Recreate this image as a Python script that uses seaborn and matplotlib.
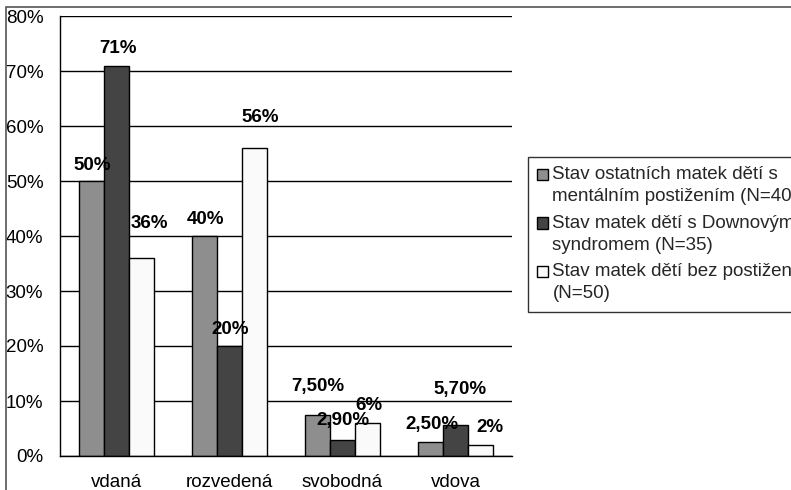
import matplotlib
matplotlib.use("Agg")
import matplotlib.pyplot as plt
from matplotlib.patches import Rectangle
from matplotlib.legend_handler import HandlerPatch
from matplotlib.ticker import MultipleLocator, FuncFormatter
import pandas as pd
import seaborn as sns

# Marital status of mothers (percent)
categories = ["vdaná", "rozvedená", "svobodná", "vdova"]
series = [
    "Stav ostatních matek dětí s\nmentálním postižením (N=40)",
    "Stav matek dětí s Downovým\nsyndromem (N=35)",
    "Stav matek dětí bez postižení\n(N=50)",
]
ostatni = [50, 40, 7.5, 2.5]
down = [71, 20, 2.9, 5.7]
bez = [36, 56, 6, 2]
colors = ["#8e8e8e", "#444444", "#fafafa"]

# label nudges (pixels: right, above bar top)
label_offsets = [
    [(1, 16), (1, 17), (1, 28.5), (2, 18)],
    [(1.5, 17), (1, 17), (0.5, 20), (4.5, 35)],
    [(7.5, 35), (5.5, 31), (1.5, 18), (9.5, 17)],
]

FS = 13.5

rows = []
for s, vals in zip(series, [ostatni, down, bez]):
    for c, v in zip(categories, vals):
        rows.append({"kategorie": c, "soubor": s, "podil": v})
df = pd.DataFrame(rows)

sns.set_theme(style="white")
plt.rcParams["font.family"] = ["Liberation Sans", "DejaVu Sans"]
plt.rcParams["font.size"] = FS

fig = plt.figure(figsize=(7.91, 4.90), dpi=100)
ax = fig.add_axes([60 / 791, 1 - 456 / 490, (512 - 60) / 791, (456 - 16) / 490])

sns.barplot(
    data=df, x="kategorie", y="podil", hue="soubor", order=categories,
    hue_order=series, palette=colors, edgecolor="black", linewidth=1.0,
    width=0.67, ax=ax, legend=False,
)

ax.set_ylim(0, 80)
ax.set_xlim(-0.5, len(categories) - 0.5)
ax.yaxis.set_major_locator(MultipleLocator(10))
ax.yaxis.set_major_formatter(FuncFormatter(lambda v, p: f"{v:.0f}%"))
ax.set_xticks([i - 0.5 for i in range(len(categories) + 1)], minor=False)
ax.set_xticklabels([])
ax.set_xticks(range(len(categories)), minor=True)
ax.set_xticklabels(categories, minor=True)
ax.tick_params(axis="x", which="major", direction="out", length=5, width=1, color="black")
ax.tick_params(axis="x", which="minor", length=0, pad=13, labelsize=FS, labelcolor="black")
ax.tick_params(axis="y", direction="out", length=5, width=1, color="black", pad=7,
               labelsize=FS, labelcolor="black")
ax.set_xlabel("")
ax.set_ylabel("")
ax.grid(axis="y", color="black", linewidth=1)
ax.set_axisbelow(True)
for side in ["top", "right"]:
    ax.spines[side].set_visible(False)
for side in ["left", "bottom"]:
    ax.spines[side].set_color("black")
    ax.spines[side].set_linewidth(1)


def fmt(v):
    if float(v).is_integer():
        return f"{v:.0f}%"
    return f"{v:.2f}".replace(".", ",") + "%"


for ci, cont in enumerate(ax.containers):
    for bi, bar in enumerate(cont):
        v = [ostatni, down, bez][ci][bi]
        dx, dy = label_offsets[ci][bi]
        ax.annotate(
            fmt(v), (bar.get_x() + bar.get_width() / 2, v),
            xytext=(dx * 0.72, dy * 0.72), textcoords="offset points",
            ha="center", va="center", fontweight="bold", fontsize=FS,
            color="black", annotation_clip=False,
        )


# legend keys sit beside the first line of each two-line entry
def first_line_square(legend, orig_handle, xdescent, ydescent, width, height, fontsize):
    return Rectangle((-xdescent, -ydescent + 8.0), width, height)


handles = [Rectangle((0, 0), 1, 1, facecolor=c, edgecolor="black", linewidth=1)
           for c in colors]
leg = ax.legend(
    handles, series,
    loc="upper left", bbox_to_anchor=(528 / 791, 1 - 157 / 490),
    bbox_transform=fig.transFigure, frameon=True, fancybox=False,
    edgecolor="black", borderaxespad=0, borderpad=0.5,
    handlelength=0.55, handleheight=0.55, handletextpad=0.25,
    labelspacing=0.5, fontsize=FS,
    handler_map={Rectangle: HandlerPatch(patch_func=first_line_square)},
)
for t in leg.get_texts():
    t.set_linespacing(1.39)
leg.get_frame().set_linewidth(1)
leg.set_clip_on(False)

# outer chart border
fig.patches.append(Rectangle((6 / 791, -0.1), 1.1, 1.1 - 7 / 490,
                             transform=fig.transFigure, fill=False,
                             edgecolor="#555555", linewidth=1.2))

fig.savefig("out.png", dpi=100)
